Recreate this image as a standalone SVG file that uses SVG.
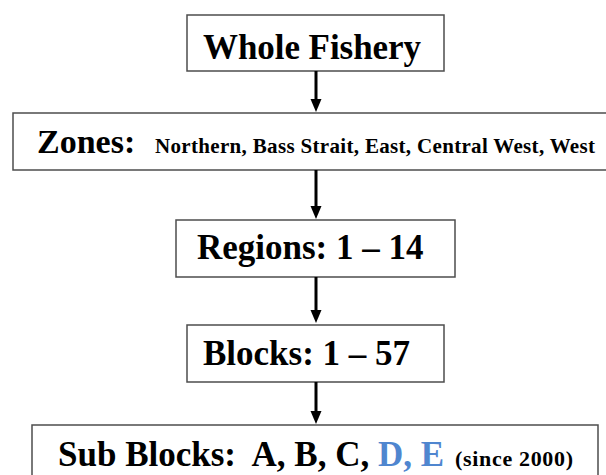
<svg xmlns="http://www.w3.org/2000/svg" width="606" height="475" viewBox="0 0 606 475">
  <style>
    .box { fill: #ffffff; stroke: #4d4d4d; stroke-width: 1.5; }
    .t { font-family: "Liberation Serif", "Times New Roman", serif; font-weight: bold; fill: #000000; }
    .big { font-size: 35px; }
    .small { font-size: 21px; }
    .blue { fill: #4f86cf; }
    .conn { stroke: #000000; stroke-width: 3; fill: none; }
  </style>
  <defs>
    <marker id="ah" markerUnits="userSpaceOnUse" markerWidth="12" markerHeight="12" refX="6" refY="12" viewBox="0 0 12 12" orient="auto-start-reverse">
      <path d="M1,0 L11,0 L6,12 Z" fill="#000000" transform="rotate(-90 6 6)"/>
    </marker>
  </defs>
  <rect width="606" height="475" fill="#ffffff"/>

  <g id="whole-fishery">
    <rect class="box" x="187" y="15" width="257" height="56"/>
    <text class="t big" x="203" y="59" textLength="218">Whole Fishery</text>
  </g>

  <g id="zones">
    <rect class="box" x="13" y="113" width="600" height="57"/>
    <text class="t" x="37" y="153" font-size="34">Zones:</text>
    <text class="t small" x="155" y="153" textLength="440">Northern, Bass Strait, East, Central West, West</text>
  </g>

  <g id="regions">
    <rect class="box" x="176" y="220" width="279" height="57"/>
    <text class="t big" x="197" y="259">Regions: 1 – 14</text>
  </g>

  <g id="blocks">
    <rect class="box" x="187" y="325" width="257" height="57"/>
    <text class="t big" x="203" y="365">Blocks: 1 – 57</text>
  </g>

  <g id="sub-blocks">
    <rect class="box" x="32" y="425" width="566" height="60"/>
    <text class="t big" x="58" y="466" xml:space="preserve">Sub Blocks:  A, B, C, <tspan class="blue">D, E</tspan></text>
    <text class="t" x="455" y="466" font-size="22" textLength="118">(since 2000)</text>
  </g>

  <g id="connectors">
    <line class="conn" x1="316" y1="71" x2="316" y2="100"/>
    <path d="M310.5,99 L321.5,99 L316,112 Z" fill="#000000"/>
    <line class="conn" x1="316" y1="170" x2="316" y2="207"/>
    <path d="M310.5,206 L321.5,206 L316,219 Z" fill="#000000"/>
    <line class="conn" x1="316" y1="277" x2="316" y2="311"/>
    <path d="M310.5,310 L321.5,310 L316,323 Z" fill="#000000"/>
    <line class="conn" x1="316" y1="382" x2="316" y2="412"/>
    <path d="M310.5,411 L321.5,411 L316,424 Z" fill="#000000"/>
  </g>
</svg>
